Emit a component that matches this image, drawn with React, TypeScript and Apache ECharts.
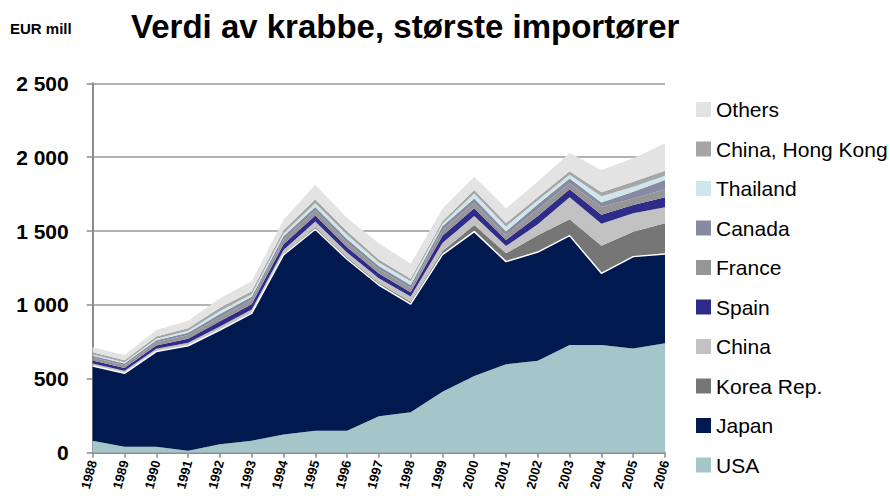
import React, { useEffect, useRef } from "react";
import * as echarts from "echarts";

const years = ["1988","1989","1990","1991","1992","1993","1994","1995","1996","1997","1998","1999","2000","2001","2002","2003","2004","2005","2006"];
const usa = [81, 41, 41, 14, 57, 81, 124, 149, 149, 246, 273, 413, 519, 598, 623, 729, 729, 706, 740];
const japan = [506, 496, 643, 710, 773, 862, 1214, 1363, 1160, 889, 733, 927, 977, 695, 735, 740, 485, 621, 605];
const korea = [5, 5, 5, 5, 6, 6, 8, 14, 14, 14, 16, 23, 45, 56, 113, 111, 186, 169, 208];
const china = [12, 12, 14, 15, 18, 20, 25, 38, 32, 32, 35, 56, 61, 50, 75, 149, 149, 124, 108];
const spain = [20, 20, 22, 27, 35, 36, 40, 41, 36, 32, 29, 50, 52, 41, 56, 54, 62, 56, 68];
const france = [20, 18, 22, 25, 30, 30, 32, 34, 32, 30, 29, 36, 38, 34, 45, 41, 54, 45, 54];
const canada = [12, 12, 14, 15, 20, 20, 22, 23, 23, 20, 20, 27, 29, 23, 34, 32, 28, 45, 63];
const thailand = [8, 8, 10, 15, 20, 18, 18, 27, 29, 25, 25, 18, 34, 34, 27, 25, 43, 34, 29];
const hongKong = [15, 14, 16, 17, 22, 20, 22, 27, 23, 20, 18, 16, 23, 23, 23, 23, 27, 34, 34];
const others = [34, 35, 43, 50, 64, 67, 70, 97, 90, 110, 100, 85, 90, 100, 105, 124, 150, 158, 185];
const yTicks = [0, 500, 1000, 1500, 2000, 2500];

const seriesDefs = [
  { name: "USA", data: usa, color: "#A5C6C9" },
  { name: "Japan", data: japan, color: "#001A4F" },
  { name: "Korea Rep.", data: korea, color: "#767676" },
  { name: "China", data: china, color: "#C2C2C2" },
  { name: "Spain", data: spain, color: "#2E2C88" },
  { name: "France", data: france, color: "#969696" },
  { name: "Canada", data: canada, color: "#878AA0" },
  { name: "Thailand", data: thailand, color: "#CDE7EB" },
  { name: "China, Hong Kong", data: hongKong, color: "#A6A6A6" },
  { name: "Others", data: others, color: "#E3E3E3" },
];

const fmt = (v: number) => {
  if (v >= 1000) {
    const s = String(v);
    return s.slice(0, s.length - 3) + " " + s.slice(s.length - 3);
  }
  return String(v);
};

export default function App() {
  const ref = useRef<HTMLDivElement>(null);
  useEffect(() => {
    if (!ref.current) return;
    const chart = echarts.init(ref.current, null, { renderer: "svg" });
    const font = "'Liberation Sans', Arial, sans-serif";
    chart.setOption({
      animation: false,
      backgroundColor: "#ffffff",
      title: {
        text: "Verdi av krabbe, største importører",
        left: 126,
        top: 5,
        textStyle: { fontFamily: font, fontWeight: "bold", fontSize: 33, color: "#000" },
      },
      graphic: [
        {
          type: "text",
          left: 10,
          top: 21,
          style: { text: "EUR mill", fontFamily: font, fontWeight: "bold", fontSize: 15, fill: "#000" },
        },
      ],
      legend: {
        orient: "vertical",
        left: 691,
        top: 94,
        itemWidth: 15,
        itemHeight: 15,
        itemGap: 18.5,
        icon: "rect",
        data: seriesDefs.map((s) => s.name).reverse(),
        textStyle: { fontFamily: font, fontSize: 21, color: "#000", lineHeight: 21, padding: [0, 0, 0, 0] },
        itemStyle: { borderWidth: 0 },
      },
      grid: { left: 92.7, right: 225, top: 83.3, bottom: 50.3, containLabel: false },
      xAxis: {
        type: "category",
        data: years,
        boundaryGap: false,
        axisLine: { lineStyle: { color: "#8c8c8c", width: 2 } },
        axisTick: { show: true, length: 5, lineStyle: { color: "#8c8c8c", width: 1.5 } },
        axisLabel: { rotate: 75, fontSize: 13, fontFamily: font, fontWeight: "bold", color: "#000", margin: 8, interval: 0 },
      },
      yAxis: {
        type: "value",
        min: 0,
        max: 2500,
        interval: 500,
        axisLine: { show: true, lineStyle: { color: "#8c8c8c", width: 2 } },
        axisTick: { show: true, length: 6, lineStyle: { color: "#8c8c8c", width: 1.5 } },
        splitLine: { lineStyle: { color: "#999999", width: 1.5 } },
        axisLabel: {
          formatter: (v: number) => (yTicks.includes(v) ? fmt(v) : ""),
          fontSize: 21,
          fontFamily: font,
          fontWeight: "bold",
          color: "#000",
          margin: 24,
        },
      },
      series: seriesDefs.map((s) => ({
        name: s.name,
        type: "line",
        stack: "total",
        data: s.data,
        showSymbol: false,
        symbol: "none",
        z: s.name === "Japan" ? 3 : 2,
        color: s.color,
        lineStyle: s.name === "Japan" ? { color: "#ffffff", width: 1.5 } : { width: 0 },
        areaStyle: { color: s.color, opacity: 1 },
        emphasis: { disabled: true },
      })),
    });
    return () => chart.dispose();
  }, []);
  return <div ref={ref} style={{ width: 890, height: 503, position: "absolute", left: 0, top: 0 }} />;
}
